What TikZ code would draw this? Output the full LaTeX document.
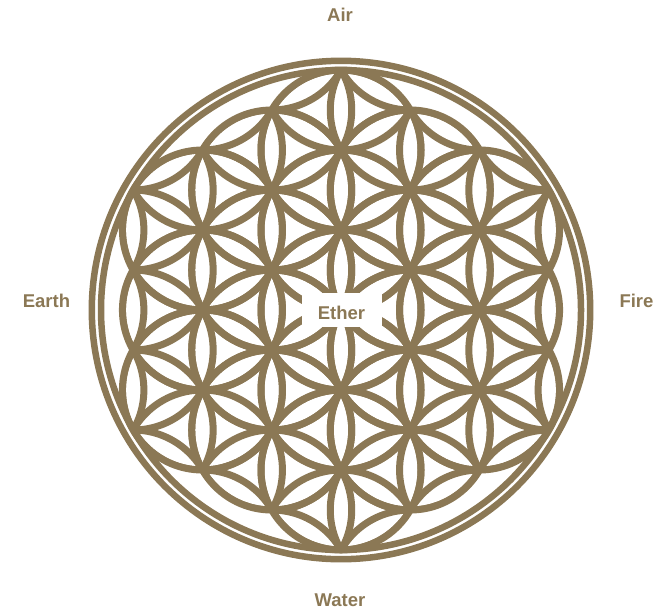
\documentclass[tikz,border=0pt]{standalone}
\usepackage{fontspec}
\setmainfont{Liberation Sans}
\usetikzlibrary{calc}
\definecolor{gold}{RGB}{139,120,85}
\tikzset{
  petal/.style={draw=gold, line width=7pt},
  ring/.style={draw=gold, line width=6.5pt},
  lbl/.style={text=gold, font=\bfseries\fontsize{18.5}{20}\selectfont, inner sep=0pt},
}
\begin{document}
\begin{tikzpicture}[x=1pt,y=-1pt]
\useasboundingbox (0,0) rectangle (668,613);
\coordinate (O) at (341,310);
% lattice arcs, kept inside the union of the 19 main circles
\begin{scope}
  \clip (O) circle (80pt)
    \foreach \a in {30,90,...,330} { ($(O)+(\a:80)$) circle (80pt) ($(O)+(\a:160)$) circle (80pt) }
    \foreach \a in {0,60,...,300} { ($(O)+(\a:138.564)$) circle (80pt) };
  \foreach \k in {-5,...,5} {
    \foreach \m in {-7,...,7} {
      \draw[petal] ($(O)+(\k*69.282, \m*80+\k*40)$) circle (80pt);
    }
  }
\end{scope}
% the 19 main circles
\draw[petal] (O) circle (80pt);
\foreach \a in {30,90,...,330} {
  \draw[petal] ($(O)+(\a:80)$) circle (80pt);
  \draw[petal] ($(O)+(\a:160)$) circle (80pt);
}
\foreach \a in {0,60,...,300} {
  \draw[petal] ($(O)+(\a:138.564)$) circle (80pt);
}
% enclosing rings
\draw[ring] (O) circle (240pt);
\draw[ring] (O) circle (249.2pt);
% centre label
\node[fill=white, minimum width=80pt, minimum height=34pt, inner sep=0pt] (etherbox) at (341.5,310) {};
\node[lbl] (ether) at (341.5,313) {Ether};
% element labels
\node[lbl] (air) at (340,15) {Air};
\node[lbl] (water) at (340,600) {Water};
\node[lbl] (earth) at (46.5,301) {Earth};
\node[lbl] (fire) at (636.5,301) {Fire};
\end{tikzpicture}
\end{document}
